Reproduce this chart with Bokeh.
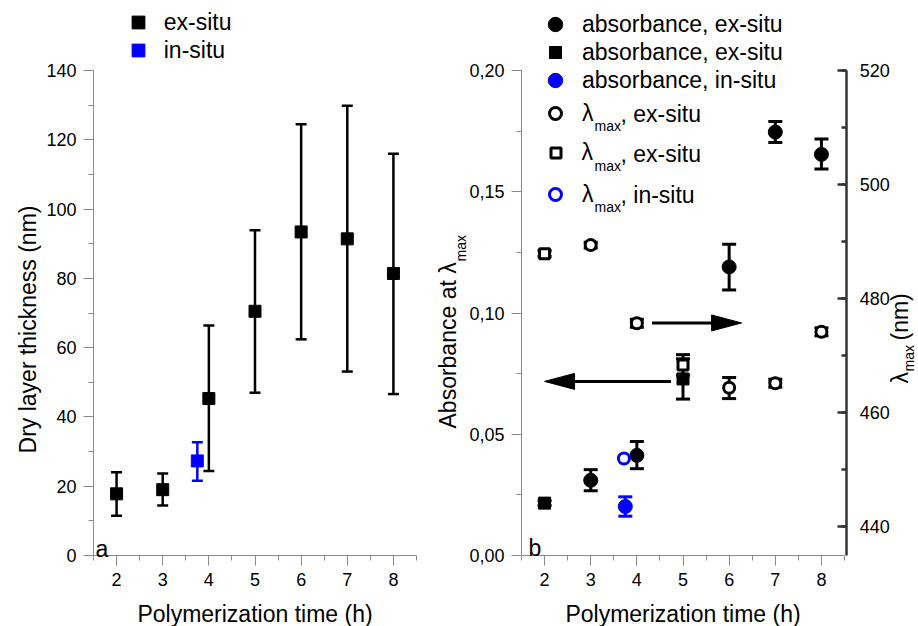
import math
from bokeh.plotting import figure
from bokeh.models import (Range1d, LinearAxis, SingleIntervalTicker, Whisker, TeeHead,
                          ColumnDataSource, Label, Legend, LegendItem, CustomJSTickFormatter)
from bokeh.layouts import row
from bokeh.embed import file_html
from bokeh.resources import INLINE

FONT = "Liberation Sans"

# ---------------- Panel a: dry layer thickness ----------------
time_ex = [2, 3, 4, 5, 6, 7, 8]
thick_ex = [17.8, 19.0, 45.3, 70.5, 93.4, 91.4, 81.4]
thick_ex_lo = [11.5, 14.4, 24.4, 47.0, 62.4, 53.1, 46.6]
thick_ex_hi = [24.0, 23.7, 66.4, 93.9, 124.5, 129.8, 116.0]
time_in = [3.75]
thick_in = [27.3]
thick_in_lo = [21.6]
thick_in_hi = [32.7]

# ---------------- Panel b: absorbance and lambda max ----------------
abs_c_time = [3, 4, 6, 7, 8]
abs_c = [0.0310, 0.0413, 0.1190, 0.1746, 0.1654]
abs_c_lo = [0.0267, 0.0358, 0.1095, 0.1703, 0.1594]
abs_c_hi = [0.0354, 0.0470, 0.1283, 0.1790, 0.1718]
abs_s_time = [2, 5]
abs_s = [0.0216, 0.0728]
abs_s_lo = [0.0206, 0.0645]
abs_s_hi = [0.0226, 0.0811]
abs_in_time = [3.75]
abs_in = [0.0202]
abs_in_lo = [0.0162]
abs_in_hi = [0.0242]
lam_c_time = [3, 4, 6, 7, 8]
lam_c = [489.4, 475.7, 464.4, 465.2, 474.2]
lam_c_lo = [488.9, 475.0, 462.5, 464.5, 473.5]
lam_c_hi = [489.9, 476.4, 466.2, 465.9, 474.9]
lam_s_time = [2, 5]
lam_s = [487.9, 468.4]
lam_s_lo = [487.4, 466.6]
lam_s_hi = [488.4, 470.2]
lam_in_time = [3.72]
lam_in = [452.0]

arrow_y = [0.0959, 0.0718]
arrow_from = [4.33, 4.74]
arrow_to = [6.27, 2.00]

# ---------------- layout constants (page pixels) ----------------
H = 626
A_W, B_W = 430, 488
B_X0 = A_W                      # page x where figure b starts
A_AXIS_X, B_AXIS_X = 93, 521    # page x of the left axis lines
AXIS_Y = 555                    # page y of the x axes
FW, FH = 323, 485               # size of the axis boxes
X_LO, X_HI = 1.5, 8.5
PPX = FW / (X_HI - X_LO)
AXIS_GREY = "#8a8a8a"


def span(lo, hi, pix_lo_from_start, total_pix, axis_pix):
    """data range for a full-canvas frame so that [lo,hi] covers axis_pix pixels
    starting pix_lo_from_start pixels from the canvas start."""
    pp = axis_pix / (hi - lo)
    start = lo - pix_lo_from_start / pp
    return start, start + total_pix / pp


def make_fig(width, fig_x0, axis_x, y_lo, y_hi):
    xs, xe = span(X_LO, X_HI, axis_x - fig_x0, width, FW)
    ys, ye = span(y_lo, y_hi, H - AXIS_Y, H, FH)
    p = figure(width=width, height=H, min_border=0, x_range=Range1d(xs, xe),
               y_range=Range1d(ys, ye), output_backend="svg", toolbar_location=None)
    p.outline_line_color = None
    p.xgrid.visible = False
    p.ygrid.visible = False
    p.background_fill_color = "white"
    p.border_fill_color = "white"
    return p


def style_axis(ax, color=AXIS_GREY, width=1, out=True):
    ax.axis_line_color = color
    ax.axis_line_width = width
    ax.major_tick_line_color = color
    ax.minor_tick_line_color = color
    ax.major_tick_line_width = width
    ax.minor_tick_line_width = width
    if out:
        ax.major_tick_out, ax.major_tick_in = 10, 0
        ax.minor_tick_out, ax.minor_tick_in = 5, 0
    else:
        ax.major_tick_out, ax.major_tick_in = 0, 9
        ax.minor_tick_out, ax.minor_tick_in = 0, 5
    ax.major_label_text_font = FONT
    ax.major_label_text_font_size = "18px"
    ax.major_label_text_color = "black"
    ax.major_label_standoff = 7
    ax.axis_label_text_font = FONT
    ax.axis_label_text_font_size = "23px"
    ax.axis_label_text_font_style = "normal"
    ax.axis_label_text_color = "black"


def errbars(p, x, y, lo, hi, color, cap, lw=2.5, yname="default"):
    src = ColumnDataSource(dict(x=x, y=y, lo=lo, hi=hi))
    w = Whisker(source=src, base="x", lower="lo", upper="hi", dimension="height",
                line_color=color, line_width=lw,
                upper_head=TeeHead(size=cap, line_color=color, line_width=lw),
                lower_head=TeeHead(size=cap, line_color=color, line_width=lw),
                y_range_name=yname)
    p.add_layout(w)
    return src


def legend_row(p, fig_x0, renderer, label, mx, my, size, tx):
    g = size / 0.4
    x_left = mx - g / 2
    vx, vy = x_left - fig_x0, H - (my + g / 2)
    leg = Legend(items=[LegendItem(label=label, renderers=[renderer])], location=(vx, vy),
                 padding=0, margin=0, spacing=0, glyph_width=int(round(g)), glyph_height=int(round(g)),
                 label_standoff=int(round(tx - x_left - g)), border_line_color=None,
                 background_fill_alpha=0, label_text_font=FONT, label_text_font_size="23px",
                 label_text_color="black", label_text_baseline="middle", label_height=10)
    p.add_layout(leg)


def text(p, fig_x0, cx, cy, s, size="23px", align="left", baseline="middle", angle=0.0):
    p.add_layout(Label(x=cx - fig_x0, y=H - cy, x_units="screen", y_units="screen", text=s,
                       text_font=FONT, text_font_size=size, text_align=align,
                       text_baseline=baseline, angle=angle, text_color="black"))


# ================= Panel a =================
pa = make_fig(A_W, 0, A_AXIS_X, 0, 140)
for ax in pa.axis:
    style_axis(ax)
pa.xaxis.fixed_location = 0
pa.xaxis.bounds = (X_LO, X_HI)
pa.yaxis.fixed_location = X_LO
pa.yaxis.bounds = (0, 140)
pa.xaxis.ticker = SingleIntervalTicker(interval=1, num_minor_ticks=2)
pa.yaxis.ticker = SingleIntervalTicker(interval=20, num_minor_ticks=2)
pa.xaxis.axis_label = "Polymerization time (h)"
pa.xaxis.axis_label_standoff = 12

s_ex = errbars(pa, time_ex, thick_ex, thick_ex_lo, thick_ex_hi, "black", 11)
r_ex = pa.scatter("x", "y", source=s_ex, marker="square", size=12, fill_color="black", line_color="black")
s_in = errbars(pa, time_in, thick_in, thick_in_lo, thick_in_hi, "blue", 11)
r_in = pa.scatter("x", "y", source=s_in, marker="square", size=12, fill_color="blue", line_color="blue")

legend_row(pa, 0, r_ex, "ex-situ", 138, 22, 13, 164)
legend_row(pa, 0, r_in, "in-situ", 138, 50, 13, 164)

text(pa, 0, 27, 329, "Dry layer thickness (nm)", align="center", angle=math.pi / 2)
text(pa, 0, 95, 548, "a", baseline="alphabetic")

# ================= Panel b =================
pb = make_fig(B_W, B_X0, B_AXIS_X, 0, 0.2)
ls, le = span(435, 520, H - AXIS_Y, H, FH)
pb.extra_y_ranges = {"lam": Range1d(ls, le)}
for ax in pb.axis:
    style_axis(ax)
pb.xaxis.fixed_location = 0
pb.xaxis.bounds = (X_LO, X_HI)
pb.yaxis.fixed_location = X_LO
pb.yaxis.bounds = (0, 0.2)
pb.xaxis.ticker = SingleIntervalTicker(interval=1, num_minor_ticks=2)
pb.yaxis.ticker = SingleIntervalTicker(interval=0.05, num_minor_ticks=2)
pb.yaxis.formatter = CustomJSTickFormatter(code="return tick.toFixed(2).replace('.', ',');")
pb.xaxis.axis_label = "Polymerization time (h)"
pb.xaxis.axis_label_standoff = 12

rax = LinearAxis(y_range_name="lam", ticker=SingleIntervalTicker(interval=20, num_minor_ticks=2))
style_axis(rax, color="#333333", width=2.5, out=False)
rax.major_label_standoff = 13
rax.fixed_location = X_HI + 0.05
rax.bounds = (435, 520)
pb.add_layout(rax, "right")

# absorbance (left scale)
sac = errbars(pb, abs_c_time, abs_c, abs_c_lo, abs_c_hi, "black", 14, lw=3)
r_ac = pb.scatter("x", "y", source=sac, marker="circle", size=14, fill_color="black", line_color="black")
sas = errbars(pb, abs_s_time, abs_s, abs_s_lo, abs_s_hi, "black", 14, lw=3)
r_as = pb.scatter("x", "y", source=sas, marker="square", size=12, fill_color="black", line_color="black")
sai = errbars(pb, abs_in_time, abs_in, abs_in_lo, abs_in_hi, "blue", 14, lw=3)
r_ai = pb.scatter("x", "y", source=sai, marker="circle", size=14, fill_color="blue", line_color="blue")

# lambda max (right scale)
slc = errbars(pb, lam_c_time, lam_c, lam_c_lo, lam_c_hi, "black", 14, lw=3, yname="lam")
r_lc = pb.scatter("x", "y", source=slc, marker="circle", size=11, fill_color="white",
                  line_color="black", line_width=3, y_range_name="lam")
sls = errbars(pb, lam_s_time, lam_s, lam_s_lo, lam_s_hi, "black", 14, lw=3, yname="lam")
r_ls = pb.scatter("x", "y", source=sls, marker="square", size=10, fill_color="white",
                  line_color="black", line_width=3, y_range_name="lam")
sli = ColumnDataSource(dict(x=lam_in_time, y=lam_in))
r_li = pb.scatter("x", "y", source=sli, marker="circle", size=11, fill_color="white",
                  line_color="blue", line_width=3, y_range_name="lam")

# arrows
ppy = FH / 0.2
HEAD_LEN, HEAD_HALF = 30, 8
for ya, xa0, xa1 in zip(arrow_y, arrow_from, arrow_to):
    d = 1 if xa1 > xa0 else -1
    xb = xa1 - d * HEAD_LEN / PPX
    pb.line([xa0, xb + d * 2 / PPX], [ya, ya], line_width=3, line_color="black")
    pb.patch([xa1, xb, xb], [ya, ya + HEAD_HALF / ppy, ya - HEAD_HALF / ppy],
             fill_color="black", line_color="black", line_width=1)

# legend
MX, TX = 555, 582
legend_row(pb, B_X0, r_ac, "absorbance, ex-situ", MX, 24, 14.5, TX)
legend_row(pb, B_X0, r_as, "absorbance, ex-situ", MX, 52, 12, TX)
legend_row(pb, B_X0, r_ai, "absorbance, in-situ", MX, 80, 14.5, TX)
for (ry, rr, lab, sz) in [(113, r_lc, ", ex-situ", 12), (153, r_ls, ", ex-situ", 10), (194, r_li, ", in-situ", 12)]:
    legend_row(pb, B_X0, rr, "\u03bb", MX, ry, sz, TX)
    text(pb, B_X0, 594, ry + 12, "max", size="14px")
    text(pb, B_X0, 620, ry, lab)

# axis titles with subscripts
text(pb, B_X0, 447, 428, "Absorbance at \u03bb", angle=math.pi / 2)
text(pb, B_X0, 460, 261, "max", size="14px", angle=math.pi / 2)
text(pb, B_X0, 899, 383, "\u03bb", angle=math.pi / 2)
text(pb, B_X0, 908, 371, "max", size="14px", angle=math.pi / 2)
text(pb, B_X0, 899, 340, "(nm)", angle=math.pi / 2)
text(pb, B_X0, 528, 547, "b", baseline="alphabetic")

layout = row(pa, pb)
open("out.html", "w").write(file_html(layout, INLINE))
